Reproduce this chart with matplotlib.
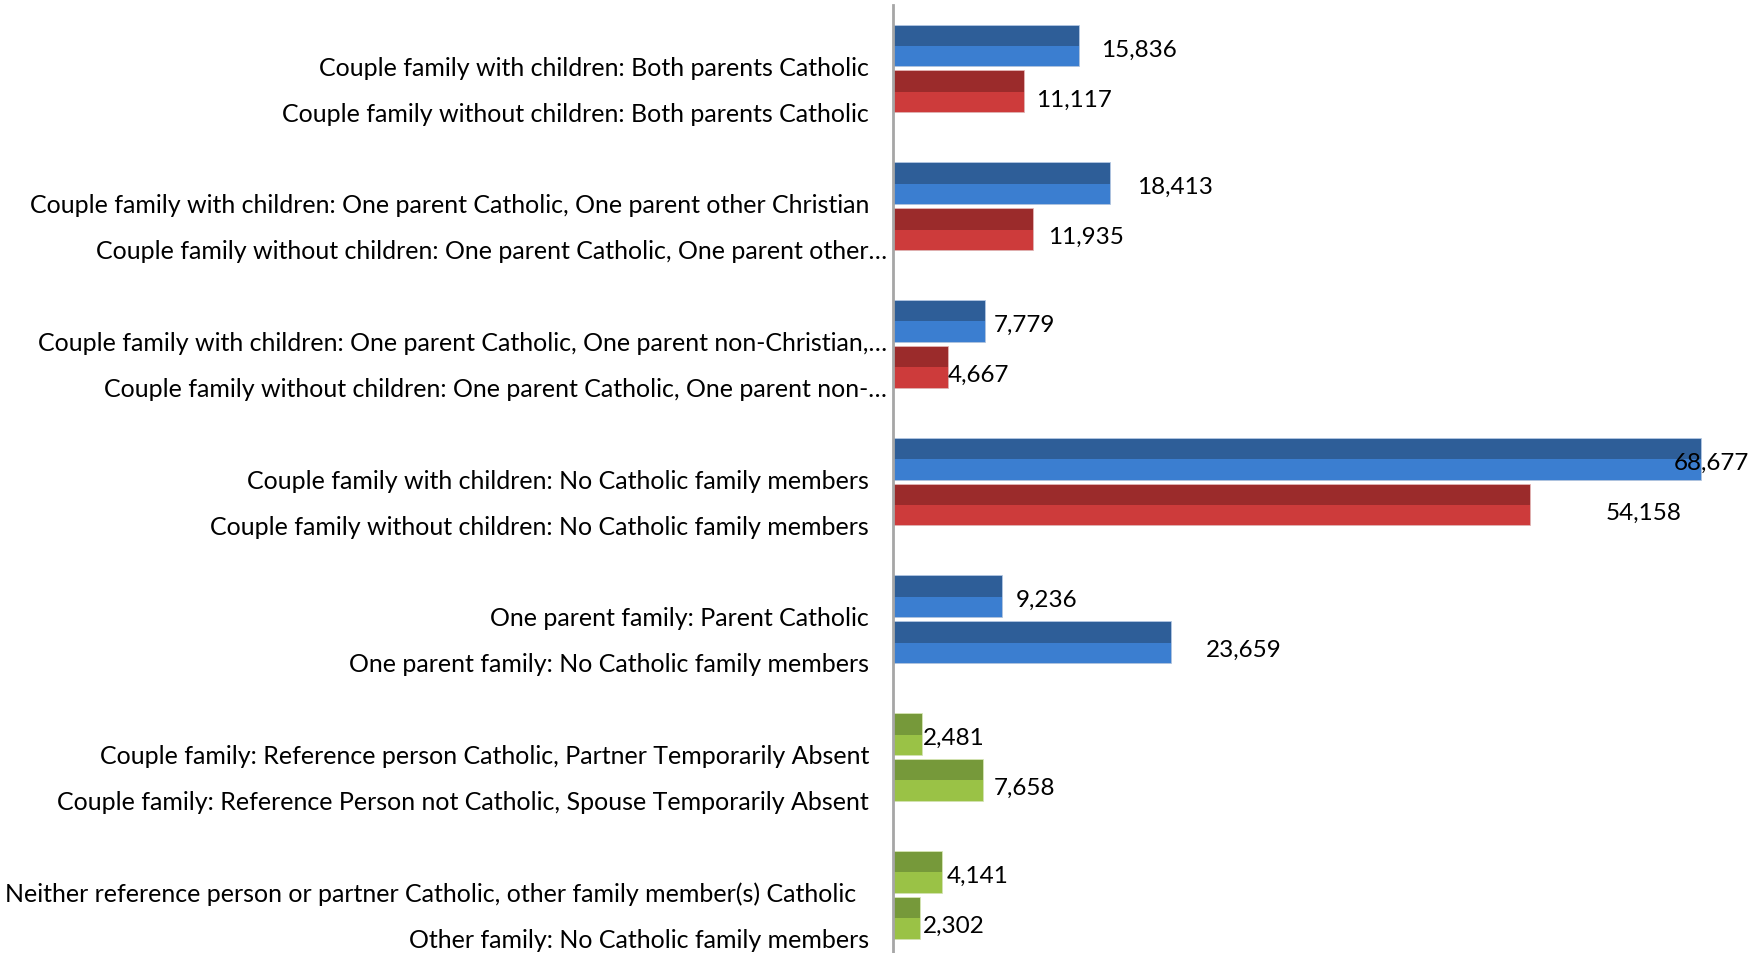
from matplotlib import pyplot as plt
from matplotlib import transforms
import numpy as np

#%%
categorias = [
    "Couple family with children: Both parents Catholic",
    "Couple family without children: Both parents Catholic",
    "Couple family with children: One parent Catholic, One parent other Christian",
    "Couple family without children: One parent Catholic, One parent other…",
    "Couple family with children: One parent Catholic, One parent non-Christian,…",
    "Couple family without children: One parent Catholic, One parent non-…",
    "Couple family with children: No Catholic family members",
    "Couple family without children: No Catholic family members",
    "One parent family: Parent Catholic",
    "One parent family: No Catholic family members",
    "Couple family: Reference person Catholic, Partner Temporarily Absent",
    "Couple family: Reference Person not Catholic, Spouse Temporarily Absent",
    "Neither reference person or partner Catholic, other family member(s) Catholic  ",
    "Other family: No Catholic family members",
]
valores = [15836, 11117, 18413, 11935, 7779, 4667, 68677, 54158,
           9236, 23659, 2481, 7658, 4141, 2302]
serie = ['azul', 'rojo', 'azul', 'rojo', 'azul', 'rojo', 'azul', 'rojo',
         'azul', 'azul', 'verde', 'verde', 'verde', 'verde']

# desplazamiento de las etiquetas de valor (px), como en el original
dx_etiq = [22, 12, 27, 15, 9, 0, -27, 75, 14, 35, 1, 11, 5, 3]

colores = {'azul': ('#2E5E98', '#3B7ED0', '#9DB6D8'),
           'rojo': ('#9B2B2B', '#CD3B3B', '#D9A0A0'),
           'verde': ('#76993A', '#9AC246', '#C8DCA0')}

plt.rcParams['font.family'] = ['Lato', 'DejaVu Sans']

#%%
W, H = 1765, 954
fig = plt.figure(figsize=(W/100, H/100), dpi=100)
x0 = 893
ax = fig.add_axes([x0/W, 0, 1 - x0/W, 1 - 6/H])

pos = np.array([(i//2)*3 + i % 2 for i in range(len(valores))])
h = 0.89

for y, v, s in zip(pos, valores, serie):
    osc, cla, borde = colores[s]
    ax.barh(y, v, height=h, color='none', edgecolor=borde, lw=1.2, zorder=1)
    ax.barh(y - h/4, v, height=h/2, color=osc, lw=0, zorder=2)
    ax.barh(y + h/4, v, height=h/2, color=cla, lw=0, zorder=2)

pxu = 808/68677
ax.set_xlim(0, (W - x0)/pxu)
ax.set_ylim((H - 47)/45.9, (6 - 47)/45.9)

for y, v, d, j in zip(pos, valores, dx_etiq, range(len(valores))):
    ax.annotate(f"{v:,}", xy=(v, y), xytext=(d*0.72, -(3 + 4*(j % 2))*0.72),
                textcoords='offset points', ha='left', va='center',
                fontsize=17.5, color='black', zorder=3)

trans = transforms.blended_transform_factory(fig.transFigure, ax.transData)
for y, lab in zip(pos, categorias):
    xr = 887 if lab.endswith('…') else 869
    ax.text(xr/W, y + 0.46, lab, transform=trans, ha='right', va='center',
            fontsize=18, color='black', clip_on=False)

for lado in ['top', 'right', 'bottom']:
    ax.spines[lado].set_visible(False)
ax.spines['left'].set_color('#A6A6A6')
ax.spines['left'].set_linewidth(2)
ax.set_xticks([])
ax.set_yticks([])

plt.savefig('out.png', dpi=100)
